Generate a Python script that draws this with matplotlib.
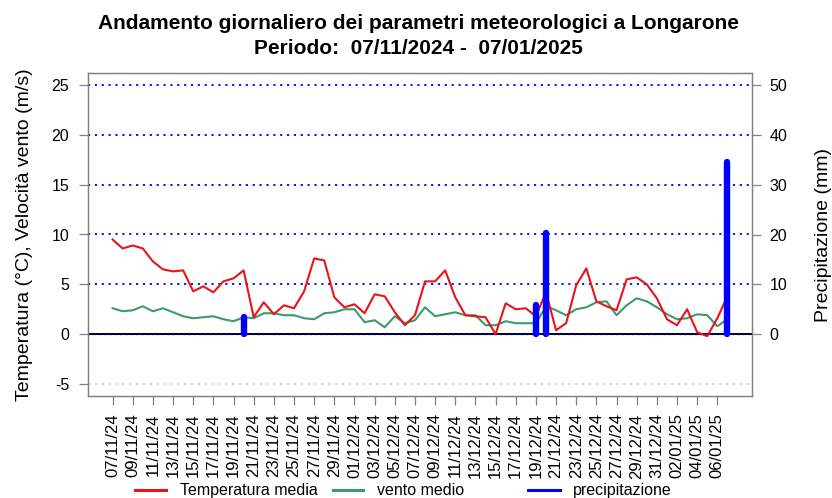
import matplotlib
matplotlib.use("Agg")
import matplotlib.pyplot as plt
from matplotlib.lines import Line2D
import numpy as np
import pandas as pd

plt.rcParams['font.family'] = ['Liberation Sans', 'DejaVu Sans']

dates = pd.date_range("2024-11-07", "2025-01-07", freq="D")
temperatura = [9.5, 8.6, 8.9, 8.6, 7.3, 6.5, 6.3, 6.4, 4.3, 4.8,
               4.2, 5.3, 5.6, 6.4, 1.7, 3.2, 2.0, 2.9, 2.6, 4.3,
               7.6, 7.4, 3.7, 2.7, 3.0, 2.1, 4.0, 3.8, 2.2, 0.9,
               1.9, 5.3, 5.3, 6.4, 3.7, 1.9, 1.8, 1.7, 0.0, 3.1,
               2.5, 2.6, 1.8, 4.2, 0.4, 1.1, 4.9, 6.6, 3.3, 2.8,
               2.4, 5.5, 5.7, 5.0, 3.6, 1.5, 0.9, 2.5, 0.2, -0.2,
               1.6, 3.8]
vento = [2.6, 2.3, 2.4, 2.8, 2.3, 2.6, 2.2, 1.8, 1.6, 1.7,
         1.8, 1.5, 1.3, 1.7, 1.6, 2.1, 2.1, 1.9, 1.9, 1.6,
         1.5, 2.1, 2.2, 2.5, 2.5, 1.2, 1.4, 0.7, 1.8, 1.1,
         1.4, 2.7, 1.8, 2.0, 2.2, 1.9, 1.9, 0.9, 0.9, 1.3,
         1.1, 1.1, 1.1, 2.8, 2.4, 1.9, 2.5, 2.7, 3.2, 3.3,
         1.9, 2.9, 3.6, 3.3, 2.7, 2.0, 1.5, 1.6, 2.0, 1.9,
         0.8, 1.5]
precipitazione = [0, 0, 0, 0, 0, 0, 0, 0, 0, 0,
                  0, 0, 0, 3.5, 0, 0, 0, 0, 0, 0,
                  0, 0, 0, 0, 0, 0, 0, 0, 0, 0,
                  0, 0, 0, 0, 0, 0, 0, 0, 0, 0,
                  0, 0, 5.8, 20.3, 0, 0, 0, 0, 0, 0,
                  0, 0, 0, 0, 0, 0, 0, 0, 0, 0,
                  0, 34.5]
tick_labels = [d.strftime("%d/%m/%y") for d in dates[:-1:2]]

x = np.arange(len(dates))
n = len(dates) - 1
pad = 0.04 * n

fig = plt.figure(figsize=(8.32, 4.98), dpi=100)
ax = fig.add_axes([88/832, 1 - 396/498, (752-88)/832, (396-73)/498])
ax2 = ax.twinx()

RED = '#e8141b'
GREEN = '#3c9a6c'
BLUE = '#0000ff'

ax.set_xlim(-pad, n + pad)
ylo, yhi = -5 - 1.2, 25 + 1.2
ax.set_ylim(ylo, yhi)
ax2.set_ylim(ylo * 2, yhi * 2)

dots = (0, (1.2, 2.6))
for g in [5, 10, 15, 20, 25]:
    ax.axhline(g, color=BLUE, ls=dots, lw=1.3, zorder=1)
ax.axhline(0, color='black', lw=1.4, zorder=1)
ax.axhline(0, color=BLUE, ls=dots, lw=1.0, zorder=1.1)
ax.axhline(-5, color='#c8c8c8', ls=dots, lw=1.3, zorder=1)

ax.plot(x, temperatura, color=RED, lw=1.5, zorder=3)
ax.plot(x, vento, color=GREEN, lw=1.5, zorder=2)

px = [xi for xi, p in zip(x, precipitazione) if p > 0]
pv = [p for p in precipitazione if p > 0]
lc = ax2.vlines(px, 0, pv, color=BLUE, lw=4.6, zorder=4)
lc.set_capstyle('round')

for a in (ax, ax2):
    for s in a.spines.values():
        s.set_color('#808080')
        s.set_linewidth(0.9)

ax.set_yticks([-5, 0, 5, 10, 15, 20, 25])
ax.set_yticklabels(['-5', '0', '5', '10', '15', '20', '25'])
ax2.set_yticks([0, 10, 20, 30, 40, 50])
ax.set_xticks(x[:-1:2])
ax.set_xticklabels(tick_labels, rotation=90)
ax.tick_params(axis='y', colors='#808080', labelcolor='black', length=6.5, width=0.9, labelsize=11.5, pad=7)
ax2.tick_params(axis='y', colors='#808080', labelcolor='black', length=6.5, width=0.9, labelsize=11.5, pad=6)
ax.tick_params(axis='x', colors='#808080', labelcolor='black', length=6.5, width=0.9, labelsize=12, pad=6)

ax.set_ylabel("Temperatura (°C), Velocità vento (m/s)", fontsize=14, labelpad=13)
ax2.set_ylabel("Precipitazione (mm)", fontsize=14, labelpad=20)

fig.text(0.503, 0.952, "Andamento giornaliero dei parametri meteorologici a Longarone",
         ha='center', va='center', fontsize=15, fontweight='bold')
fig.text(0.503, 0.902, "Periodo:  07/11/2024 -  07/01/2025",
         ha='center', va='center', fontsize=15, fontweight='bold')

ly = 1 - 490/498
for (x0, x1, tx, col, lab) in [(135, 166, 180, RED, "Temperatura media"),
                               (333, 363, 377, GREEN, "vento medio"),
                               (528, 560, 573, BLUE, "precipitazione")]:
    fig.add_artist(Line2D([x0/832, x1/832], [ly, ly], color=col, lw=2.2, transform=fig.transFigure))
    fig.text(tx/832, ly, lab, ha='left', va='center', fontsize=11.5)

fig.savefig("out.png", dpi=100)
